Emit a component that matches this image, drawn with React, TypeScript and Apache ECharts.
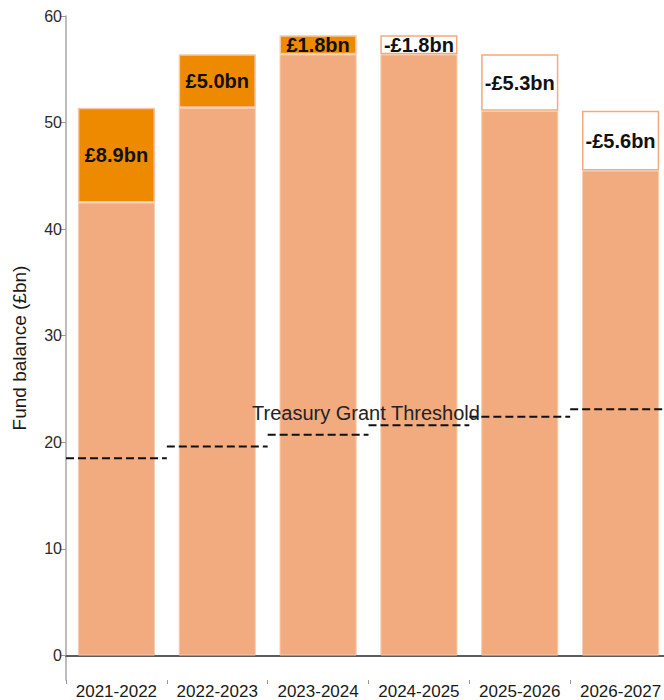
import React, { useEffect, useRef } from "react";
import * as echarts from "echarts";

// Financial years shown on the category axis
const categories = ["2021-2022", "2022-2023", "2023-2024", "2024-2025", "2025-2026", "2026-2027"];
// Fund balance at the start of each year (£bn)
const openingBalance = [42.5, 51.4, 56.4, 58.2, 56.4, 51.1];
// Change in balance over each year (£bn)
const balanceChange = [8.9, 5.0, 1.8, -1.8, -5.3, -5.6];
// Treasury grant threshold per year (£bn)
const grantThreshold = [18.5, 19.6, 20.7, 21.6, 22.4, 23.1];
// Value-axis tick labels
const yTicks = [0, 10, 20, 30, 40, 50, 60];
const yMin = -2.3;
const yMax = 60;

const FONT = "'Liberation Sans', Arial, sans-serif";
const PEACH = "#F2AB7E";
const ORANGE = "#EE8A00";

const fmtChange = (v: number) =>
  v >= 0 ? `£${v.toFixed(1)}bn` : `-£${Math.abs(v).toFixed(1)}bn`;

export default function App() {
  const ref = useRef<HTMLDivElement>(null);

  useEffect(() => {
    if (!ref.current) return;
    const chart = echarts.init(ref.current, undefined, { renderer: "svg" });

    // lower part of each bar: the smaller of opening and closing balance
    const baseValues = openingBalance.map((o, i) =>
      balanceChange[i] >= 0 ? o : +(o + balanceChange[i]).toFixed(1)
    );
    const increaseValues = balanceChange.map((c) => (c > 0 ? c : "-"));
    const decreaseValues = balanceChange.map((c) => (c < 0 ? -c : "-"));

    const changeLabel = {
      show: true,
      position: "inside",
      formatter: (p: any) => fmtChange(balanceChange[p.dataIndex]),
      fontFamily: FONT,
      fontSize: 20,
      fontWeight: "bold",
      color: "#111",
    };

    chart.setOption({
      animation: false,
      backgroundColor: "#fff",
      textStyle: { fontFamily: FONT },
      grid: { left: 66, top: 16, width: 605, height: 666, containLabel: false },
      xAxis: [
        {
          type: "category",
          data: categories,
          position: "bottom",
          axisLine: { show: false, onZero: false },
          axisTick: { show: true, length: 4, lineStyle: { color: "#999", width: 1 } },
          axisLabel: { interval: 0, fontSize: 17, color: "#1a1a1a", margin: 3, fontFamily: FONT },
          splitLine: { show: false },
        },
        {
          // zero baseline
          type: "category",
          data: categories,
          position: "bottom",
          axisLine: { show: true, onZero: true, lineStyle: { color: "#5c5c5c", width: 2 } },
          axisTick: { show: false },
          axisLabel: { show: false },
          splitLine: { show: false },
        },
      ],
      yAxis: {
        type: "value",
        min: yMin,
        max: yMax,
        name: "Fund balance (£bn)",
        nameLocation: "middle",
        nameGap: 37,
        nameTextStyle: { fontSize: 19, color: "#1a1a1a", fontFamily: FONT },
        axisLine: { show: true, onZero: false, lineStyle: { color: "#a6a6a6", width: 1.5 } },
        axisTick: { show: true, length: 5, customValues: yTicks, lineStyle: { color: "#999" } },
        axisLabel: { fontSize: 16, color: "#2a2a2a", margin: 4, customValues: yTicks, fontFamily: FONT },
        splitLine: { show: false },
      },
      graphic: [
        {
          type: "text",
          x: 252,
          y: 413,
          z: 10,
          style: {
            text: "Treasury Grant Threshold",
            fontSize: 20,
            fontFamily: FONT,
            fill: "#222",
            align: "left",
            verticalAlign: "middle",
          },
        },
      ],
      series: [
        {
          name: "Balance",
          type: "bar",
          stack: "fund",
          barWidth: "76.5%",
          data: baseValues,
          itemStyle: { color: PEACH, borderColor: "#F8CDB0", borderWidth: 1 },
        },
        {
          name: "Increase",
          type: "bar",
          stack: "fund",
          data: increaseValues,
          itemStyle: { color: ORANGE, borderColor: "#F8C6A4", borderWidth: 1.5 },
          label: changeLabel,
        },
        {
          name: "Decrease",
          type: "bar",
          stack: "fund",
          data: decreaseValues,
          itemStyle: { color: "#fff", borderColor: PEACH, borderWidth: 1.5 },
          label: changeLabel,
        },
        {
          name: "Treasury Grant Threshold",
          type: "custom",
          z: 5,
          data: grantThreshold.map((v, i) => [i, v]),
          renderItem: (params: any, api: any) => {
            const pt = api.coord([api.value(0), api.value(1)]);
            const band = api.size([1, 0])[0];
            return {
              type: "line",
              shape: { x1: pt[0] - band / 2, y1: pt[1], x2: pt[0] + band / 2, y2: pt[1] },
              style: { stroke: "#111", lineWidth: 2, lineDash: [8, 4] },
            };
          },
        },
      ],
    });

    return () => chart.dispose();
  }, []);

  return (
    <div
      style={{
        position: "fixed",
        left: 0,
        top: 0,
        width: 664,
        height: 700,
        overflow: "hidden",
        background: "#fff",
      }}
    >
      <div ref={ref} style={{ width: 690, height: 700 }} />
    </div>
  );
}
